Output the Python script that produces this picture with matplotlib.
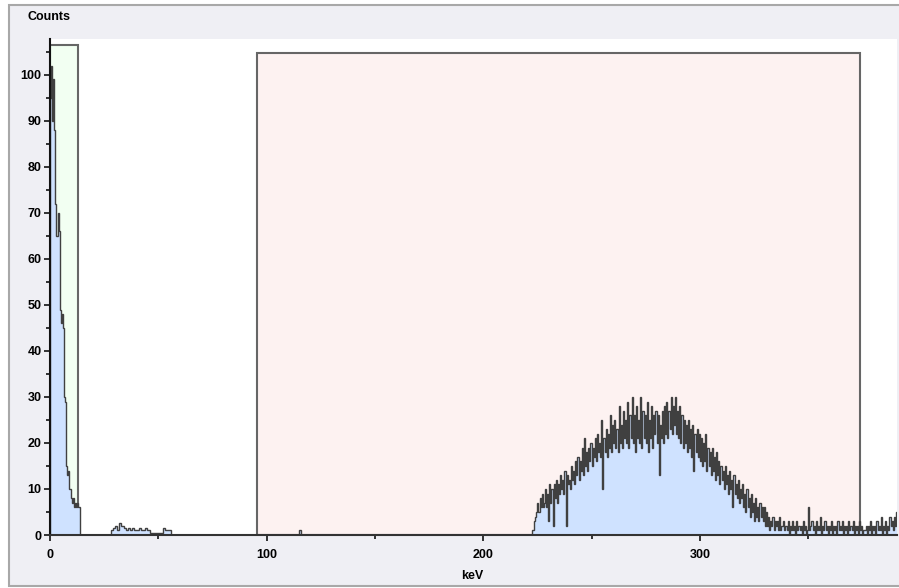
"""Energy spectrum with two ROI boxes (counts vs keV)."""

import matplotlib

matplotlib.use("Agg")
import matplotlib.pyplot as plt  # noqa: E402
import numpy as np  # noqa: E402
from matplotlib.patches import Rectangle  # noqa: E402
from matplotlib.ticker import MultipleLocator  # noqa: E402

# --- spectrum data -----------------------------------------------------------
# low-energy segment, 0.5 keV channels starting at 0 keV
LOW_START, LOW_WIDTH = 0.0, 0.5
low_counts = [95, 102, 90, 99, 88, 72, 65, 70, 66, 49, 46, 48, 45, 30,
              29, 15, 13, 14, 10, 8, 7, 8, 6, 7, 6, 7, 6, 6]

# small bump, 1 keV channels starting at 28 keV
BUMP_START, BUMP_WIDTH = 28.0, 1.0
bump_counts = [1, 1.5, 2, 1, 2.5, 2, 1.5, 1, 1.5, 1, 1.5, 1, 1, 1.5,
               1, 1, 1.5, 1, 0.5, 0.5, 0.5, 0.5, 0.5, 0.5, 1.5, 1, 1, 1]

# single stray count
STRAY_START, STRAY_WIDTH = 115.0, 1.0
stray_counts = [1]

# main peak, 0.5 keV channels starting at 222 keV (one row = 10 keV)
PEAK_START, PEAK_WIDTH = 222.0, 0.5
peak_counts = [
    0, 1, 1, 3, 4, 5, 7, 5, 8, 6, 9, 6, 7, 10, 6, 9, 3, 11, 7, 10,
    2, 11, 8, 12, 7, 11, 9, 13, 10, 12, 9, 14, 2, 13, 11, 12, 10, 15, 12, 14,
    11, 16, 13, 17, 12, 16, 14, 19, 13, 21, 15, 18, 14, 19, 16, 20, 15, 19, 17, 21,
    16, 22, 18, 20, 17, 25, 10, 21, 18, 23, 17, 22, 19, 26, 18, 24, 20, 25, 19, 23,
    18, 28, 20, 24, 19, 27, 21, 25, 20, 29, 19, 26, 21, 30, 20, 26, 18, 28, 21, 25,
    20, 30, 19, 27, 21, 26, 20, 29, 18, 25, 21, 28, 19, 26, 22, 27, 20, 26, 13, 24,
    21, 27, 20, 28, 22, 29, 21, 27, 23, 30, 22, 28, 24, 30, 22, 27, 21, 28, 20, 26,
    19, 25, 20, 24, 18, 25, 19, 23, 17, 24, 14, 22, 18, 23, 17, 22, 16, 21, 15, 20,
    16, 22, 14, 19, 15, 18, 13, 19, 14, 17, 12, 18, 13, 16, 11, 15, 12, 14, 10, 15,
    11, 13, 9, 14, 10, 12, 6, 13, 9, 11, 8, 12, 7, 10, 8, 11, 6, 9, 5, 10,
    6, 8, 4, 9, 5, 7, 3, 8, 4, 6, 3, 7, 4, 6, 3, 6, 2, 5, 2, 4,
    1, 3, 2, 4, 1, 3, 2, 3, 1, 4, 1, 2, 2, 3, 1, 2, 1, 3, 0, 2,
    1, 3, 1, 2, 0, 3, 1, 2, 1, 2, 0, 3, 1, 2, 0, 1, 6, 1, 2, 3,
    1, 2, 0, 3, 1, 2, 1, 4, 0, 2, 1, 3, 1, 2, 0, 2, 1, 3, 0, 2,
    1, 2, 0, 3, 1, 2, 1, 3, 0, 2, 1, 2, 0, 3, 1, 2, 1, 3, 0, 2,
    1, 2, 0, 3, 1, 2, 0, 1, 1, 2, 0, 2, 1, 3, 0, 2, 1, 2, 0, 3,
    1, 2, 1, 4, 0, 2, 1, 3, 0, 2, 1, 4, 2, 3, 1, 4, 2, 5, 3, 4,
]

# regions of interest: (left keV, right keV, height counts, face colour)
roi_left = [0.0, 95.6]
roi_right = [13.0, 373.7]
roi_top = [106.6, 104.8]
roi_face = ["#F2FFF2", "#FDF2F1"]


def build_steps(segments):
    """Join channel segments into one edges/values pair, zero between them."""
    edges, values = [], []
    for start, width, counts in segments:
        seg_edges = start + width * np.arange(len(counts) + 1)
        if edges and seg_edges[0] > edges[-1]:
            values.append(0.0)
        elif edges:
            seg_edges = seg_edges[1:]
            edges.pop()
        edges.extend(seg_edges.tolist())
        values.extend(counts)
    return np.array(edges), np.array(values, dtype=float)


def main() -> None:
    plt.rcParams["font.family"] = ["Liberation Sans", "DejaVu Sans"]

    fig = plt.figure(figsize=(8.99, 5.88), dpi=100, facecolor="white")
    W, H = 899, 588
    # panel background with a thin grey frame, kept behind the axes
    fig.patches.append(Rectangle((9 / W, 2 / H), 1.0, 1 - 7 / H,
                                 transform=fig.transFigure, facecolor="#EFEFF4",
                                 edgecolor="#A8A8A8", lw=1.5, zorder=-10))

    ax = fig.add_axes([50 / W, 1 - 535 / H, 847 / W, 496 / H])
    ax.set_facecolor("white")

    for x0, x1, top, face in zip(roi_left, roi_right, roi_top, roi_face):
        ax.add_patch(Rectangle((x0, 0), x1 - x0, top, facecolor=face,
                               edgecolor="#666666", lw=1.5, zorder=1))

    edges, values = build_steps([
        (LOW_START, LOW_WIDTH, low_counts),
        (BUMP_START, BUMP_WIDTH, bump_counts),
        (STRAY_START, STRAY_WIDTH, stray_counts),
        (PEAK_START, PEAK_WIDTH, peak_counts),
    ])
    ax.stairs(values, edges, fill=True, color="#CFE2FF", zorder=2)
    ax.stairs(values, edges, color="#404040", lw=1.0, zorder=3)

    ax.set_xlim(0, 391)
    ax.set_ylim(0, 107.8)
    ax.xaxis.set_major_locator(MultipleLocator(100))
    ax.xaxis.set_minor_locator(MultipleLocator(50))
    ax.yaxis.set_major_locator(MultipleLocator(10))
    ax.yaxis.set_minor_locator(MultipleLocator(5))
    ax.tick_params(which="both", direction="out", width=1.2, color="#111111",
                   labelsize=9, pad=2)
    ax.tick_params(which="major", length=4)
    ax.tick_params(which="minor", length=3)
    ax.tick_params(axis="x", pad=6)
    for lab in ax.get_xticklabels() + ax.get_yticklabels():
        lab.set_fontweight("bold")

    for side in ("top", "right"):
        ax.spines[side].set_visible(False)
    ax.spines["left"].set_linewidth(1.5)
    ax.spines["left"].set_color("#111111")
    ax.spines["bottom"].set_linewidth(1.5)
    ax.spines["bottom"].set_color("#333333")
    ax.spines["left"].set_zorder(4)
    ax.spines["bottom"].set_zorder(4)

    fig.text(27 / W, 1 - 17 / H, "Counts", ha="left", va="center",
             fontsize=9, fontweight="bold")
    fig.text(472 / W, 1 - 576 / H, "keV", ha="center", va="center",
             fontsize=9, fontweight="bold")

    fig.savefig("out.png", dpi=100, facecolor=fig.get_facecolor())


if __name__ == "__main__":
    main()
